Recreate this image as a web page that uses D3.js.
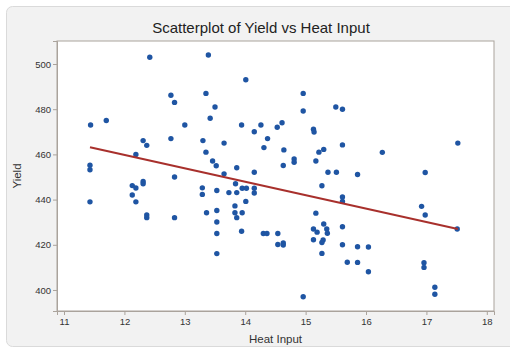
<!DOCTYPE html>
<html>
<head>
<meta charset="utf-8">
<script src="https://cdn.jsdelivr.net/npm/d3@7"></script>
<style>
  html, body { margin: 0; padding: 0; background: #ffffff; }
  svg { display: block; font-family: "Liberation Sans", Arial, Helvetica, sans-serif; }
</style>
</head>
<body>
<svg id="chart" width="510" height="349"></svg>
<script>
// Heat input (x) and yield (y) for each observation
const heatInput = [
  11.44, 11.70, 11.43, 11.43, 11.43, 12.13, 12.19, 12.13, 12.19, 12.31,
  12.31, 12.37, 12.37, 12.19, 12.31, 12.37, 12.42, 12.77, 12.83, 12.77,
  13.00, 12.83, 12.83, 13.39, 14.01, 13.35, 13.50, 14.96, 14.96, 15.50,
  15.61, 13.42, 13.94, 14.15, 14.26, 14.37, 14.53, 14.61, 15.13, 15.14,
  13.30, 13.35, 13.65, 14.31, 14.64, 14.81, 14.81, 15.22, 15.30, 15.61,
  15.17, 13.46, 13.52, 13.86, 13.65, 14.15, 14.63, 15.37, 15.51, 16.27,
  17.52, 15.86, 16.98, 13.29, 13.29, 13.53, 13.73, 13.84, 13.86, 13.95,
  14.02, 14.15, 14.15, 14.01, 13.83, 13.36, 13.53, 13.83, 13.86, 13.95,
  13.53, 13.53, 13.94, 14.30, 14.36, 14.54, 14.54, 14.63, 14.63, 13.53,
  14.96, 15.27, 15.17, 15.13, 15.19, 15.30, 15.35, 15.36, 15.13, 15.29,
  15.27, 15.27, 15.61, 15.61, 15.61, 15.61, 15.69, 15.86, 15.86, 16.04,
  16.04, 16.92, 16.98, 17.51, 16.96, 16.96, 17.14, 17.14
];
const yieldValues = [
  473.0, 475.0, 455.2, 453.2, 439.0, 446.2, 445.1, 442.0, 439.0, 448.0,
  447.0, 433.2, 432.0, 460.0, 466.1, 464.0, 503.0, 486.2, 483.0, 467.0,
  473.0, 450.0, 432.0, 504.0, 493.0, 487.0, 481.0, 487.0, 479.2, 481.0,
  480.0, 476.0, 473.0, 470.0, 473.0, 467.0, 472.0, 474.0, 471.1, 469.9,
  466.1, 461.0, 465.0, 463.0, 462.0, 458.0, 456.5, 461.0, 462.2, 464.2,
  457.1, 457.1, 455.0, 454.1, 451.4, 452.1, 455.1, 452.1, 452.1, 460.9,
  465.0, 451.1, 452.0, 445.2, 442.3, 444.0, 443.1, 447.0, 443.1, 445.0,
  445.0, 445.0, 442.9, 439.2, 437.2, 434.2, 435.2, 434.2, 432.0, 434.2,
  430.1, 425.0, 426.0, 425.0, 425.0, 425.0, 420.1, 420.8, 419.9, 416.1,
  397.0, 446.1, 434.0, 427.0, 425.6, 429.2, 427.0, 425.1, 422.2, 422.1,
  421.0, 416.2, 441.2, 439.2, 428.0, 420.0, 412.3, 412.2, 419.1, 419.0,
  408.1, 437.0, 433.2, 427.0, 412.1, 410.0, 401.2, 398.1
];

// Fitted regression line: yield = intercept + slope * heat input
const fitIntercept = 530.9;
const fitSlope = -5.93;

// Axis ticks
const xTicks = [11, 12, 13, 14, 15, 16, 17, 18];
const yTicks = [400, 420, 440, 460, 480, 500];

const titleText = "Scatterplot of Yield vs Heat Input";
const xLabel = "Heat Input";
const yLabel = "Yield";

const svg = d3.select("#chart");

// Outer light panel
svg.append("rect")
  .attr("x", 6.5).attr("y", 6.5)
  .attr("width", 510).attr("height", 340)
  .attr("rx", 6).attr("ry", 6)
  .attr("fill", "#f2f2f2")
  .attr("stroke", "#dadada");

const plot = { left: 57, right: 494, top: 41, bottom: 311 };

const x = d3.scaleLinear().domain([10.884, 18.119]).range([plot.left, plot.right]);
const y = d3.scaleLinear().domain([390.7, 510.18]).range([plot.bottom, plot.top]);

// Plot area
svg.append("rect")
  .attr("x", plot.left).attr("y", plot.top)
  .attr("width", plot.right - plot.left).attr("height", plot.bottom - plot.top)
  .attr("fill", "#ffffff")
  .attr("stroke", "#aaa39c")
  .attr("stroke-width", 1);

// Axes
const xAxis = svg.append("g")
  .attr("transform", `translate(0,${plot.bottom})`)
  .call(d3.axisBottom(x).tickValues(xTicks).tickFormat(d3.format("d")).tickSize(4).tickPadding(3));
const yAxis = svg.append("g")
  .attr("transform", `translate(${plot.left},0)`)
  .call(d3.axisLeft(y).tickValues(yTicks).tickFormat(d3.format("d")).tickSize(4).tickPadding(2));

[xAxis, yAxis].forEach(g => {
  g.select(".domain").attr("stroke", "#aaa39c");
  g.selectAll(".tick line").attr("stroke", "#aaa39c");
  g.selectAll(".tick text")
    .attr("fill", "#333333")
    .style("font-family", "'Liberation Sans', Arial, sans-serif")
    .style("font-size", "9.5px");
});

// Points
const points = heatInput.map((h, i) => ({ h, v: yieldValues[i] }));
svg.append("g")
  .selectAll("circle")
  .data(points)
  .join("circle")
  .attr("cx", d => x(d.h))
  .attr("cy", d => y(d.v))
  .attr("r", 2.7)
  .attr("fill", "#1f55a3");

// Regression line across the range of the data
const [hMin, hMax] = d3.extent(heatInput);
const fitLine = [hMin, hMax].map(h => ({ h, v: fitIntercept + fitSlope * h }));
svg.append("path")
  .datum(fitLine)
  .attr("d", d3.line().x(d => x(d.h)).y(d => y(d.v)))
  .attr("fill", "none")
  .attr("stroke", "#a8302c")
  .attr("stroke-width", 2);

// Titles
svg.append("text")
  .attr("x", 261).attr("y", 33)
  .attr("text-anchor", "middle")
  .style("font-size", "15px")
  .attr("fill", "#222")
  .text(titleText);

svg.append("text")
  .attr("x", (plot.left + plot.right) / 2).attr("y", 343)
  .attr("text-anchor", "middle")
  .style("font-size", "11.5px")
  .attr("fill", "#333")
  .text(xLabel);

svg.append("text")
  .attr("transform", `translate(21,${(plot.top + plot.bottom) / 2}) rotate(-90)`)
  .attr("text-anchor", "middle")
  .style("font-size", "11.5px")
  .attr("fill", "#333")
  .text(yLabel);
</script>
</body>
</html>
